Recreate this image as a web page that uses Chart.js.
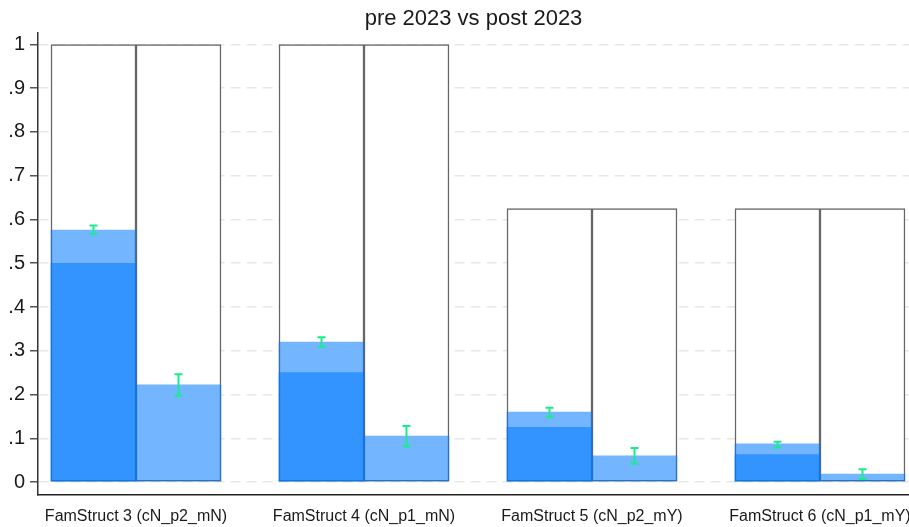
<!DOCTYPE html>
<html>
<head>
<meta charset="utf-8">
<script src="https://cdn.jsdelivr.net/npm/chart.js@4/dist/chart.umd.min.js"></script>
<style>
  html, body { margin: 0; padding: 0; background: #ffffff; }
  #wrap { width: 909px; height: 527px; }
</style>
</head>
<body>
<div id="wrap"><canvas id="chart" width="909" height="527"></canvas></div>
<script>
// Family-structure groups along the x axis
const categories = [
  'FamStruct 3 (cN_p2_mN)',
  'FamStruct 4 (cN_p1_mN)',
  'FamStruct 5 (cN_p2_mY)',
  'FamStruct 6 (cN_p1_mY)'
];

// Outline boxes (upper bound of each share)
const boxPre  = [1, 1, 0.625, 0.625];
const boxPost = [1, 1, 0.625, 0.625];

// Estimated shares, pre and post 2023
const sharePre  = [0.576, 0.320, 0.160, 0.087];
const sharePost = [0.222, 0.105, 0.060, 0.018];

// Lower part of the pre-2023 bars
const floorPre = [0.5, 0.25, 0.125, 0.0625];

// Confidence intervals
const ciPreLow   = [0.567, 0.309, 0.149, 0.079];
const ciPreHigh  = [0.586, 0.331, 0.170, 0.092];
const ciPostLow  = [0.197, 0.082, 0.042, 0.007];
const ciPostHigh = [0.246, 0.128, 0.078, 0.029];

// Y axis ticks
const yTickValues = [0, 0.1, 0.2, 0.3, 0.4, 0.5, 0.6, 0.7, 0.8, 0.9, 1];
const yTickLabels = ['0', '.1', '.2', '.3', '.4', '.5', '.6', '.7', '.8', '.9', '1'];

const FONT = '"Liberation Sans", Arial, Helvetica, sans-serif';
const BLUE = 'rgba(0, 120, 255, 0.55)';
const BOX_FILL = '#ffffff';
const BOX_LINE = '#666666';
const CI_COLOR = '#17ee8b';

const pts = arr => arr.map((v, i) => ({ x: i, y: v }));

const errorBars = {
  id: 'errorBars',
  afterDatasetsDraw(chart) {
    const ctx = chart.ctx;
    const yScale = chart.scales.y;
    const sets = [
      [0, ciPreLow, ciPreHigh],
      [1, ciPostLow, ciPostHigh]
    ];
    ctx.save();
    ctx.strokeStyle = CI_COLOR;
    ctx.lineWidth = 2;
    sets.forEach(([di, lo, hi]) => {
      chart.getDatasetMeta(di).data.forEach((bar, i) => {
        const x = bar.x;
        const yl = yScale.getPixelForValue(lo[i]);
        const yh = yScale.getPixelForValue(hi[i]);
        ctx.beginPath();
        ctx.moveTo(x, yl); ctx.lineTo(x, yh);
        ctx.moveTo(x - 4, yl); ctx.lineTo(x + 4, yl);
        ctx.moveTo(x - 4, yh); ctx.lineTo(x + 4, yh);
        ctx.stroke();
      });
    });
    ctx.restore();
  }
};

new Chart(document.getElementById('chart'), {
  type: 'bar',
  data: {
    datasets: [
      { label: 'pre', data: pts(sharePre), stack: 'pre', order: 2,
        backgroundColor: BLUE, borderWidth: 0 },
      { label: 'post', data: pts(sharePost), stack: 'post', order: 2,
        backgroundColor: BLUE, borderWidth: 0 },
      { label: 'pre floor', data: pts(floorPre), stack: 'pre', order: 1,
        backgroundColor: BLUE, borderWidth: 0 },
      { label: 'pre box', data: pts(boxPre), stack: 'pre', order: 3,
        backgroundColor: BOX_FILL, borderColor: BOX_LINE, borderWidth: 1.5, borderSkipped: false },
      { label: 'post box', data: pts(boxPost), stack: 'post', order: 3,
        backgroundColor: BOX_FILL, borderColor: BOX_LINE, borderWidth: 1.5, borderSkipped: false }
    ]
  },
  options: {
    responsive: false,
    animation: false,
    devicePixelRatio: 1,
    barThickness: 85,
    layout: { padding: 0, autoPadding: false },
    plugins: {
      legend: { display: false },
      tooltip: { enabled: false },
      title: {
        display: true,
        fullSize: false,
        text: 'pre 2023 vs post 2023',
        color: '#1a1a1a',
        font: { family: FONT, size: 22, weight: 'normal' },
        padding: { top: 6, bottom: 0 }
      }
    },
    scales: {
      x: {
        type: 'linear',
        offset: false,
        min: -0.4298,
        max: 3.3904,
        afterBuildTicks: s => { s.ticks = categories.map((_, i) => ({ value: i })); },
        afterFit: s => { s.height = 32; s.paddingLeft = 0; s.paddingRight = 0; },
        grid: { display: false, offset: false },
        border: { display: true, color: '#222222', width: 1.5 },
        ticks: {
          autoSkip: false,
          maxRotation: 0,
          padding: 4,
          color: '#1a1a1a',
          font: { family: FONT, size: 16 },
          callback: (v, i) => categories[i]
        }
      },
      y: {
        stacked: false,
        min: -0.0297,
        max: 1.0276,
        afterBuildTicks: s => { s.ticks = yTickValues.map(v => ({ value: v })); },
        afterFit: s => { s.width = 38; s.paddingTop = 0; s.paddingBottom = 0; },
        grid: {
          color: '#e8e8e8',
          lineWidth: 1.5,
          tickLength: 8,
          tickColor: '#555555',
          tickWidth: 1.5,
          tickBorderDash: []
        },
        border: { display: true, color: '#333333', width: 1.5, dash: [10, 6] },
        ticks: {
          padding: 5,
          color: '#1a1a1a',
          font: { family: FONT, size: 20 },
          callback: (v, i) => yTickLabels[i]
        }
      }
    }
  },
  plugins: [errorBars]
});
</script>
</body>
</html>
